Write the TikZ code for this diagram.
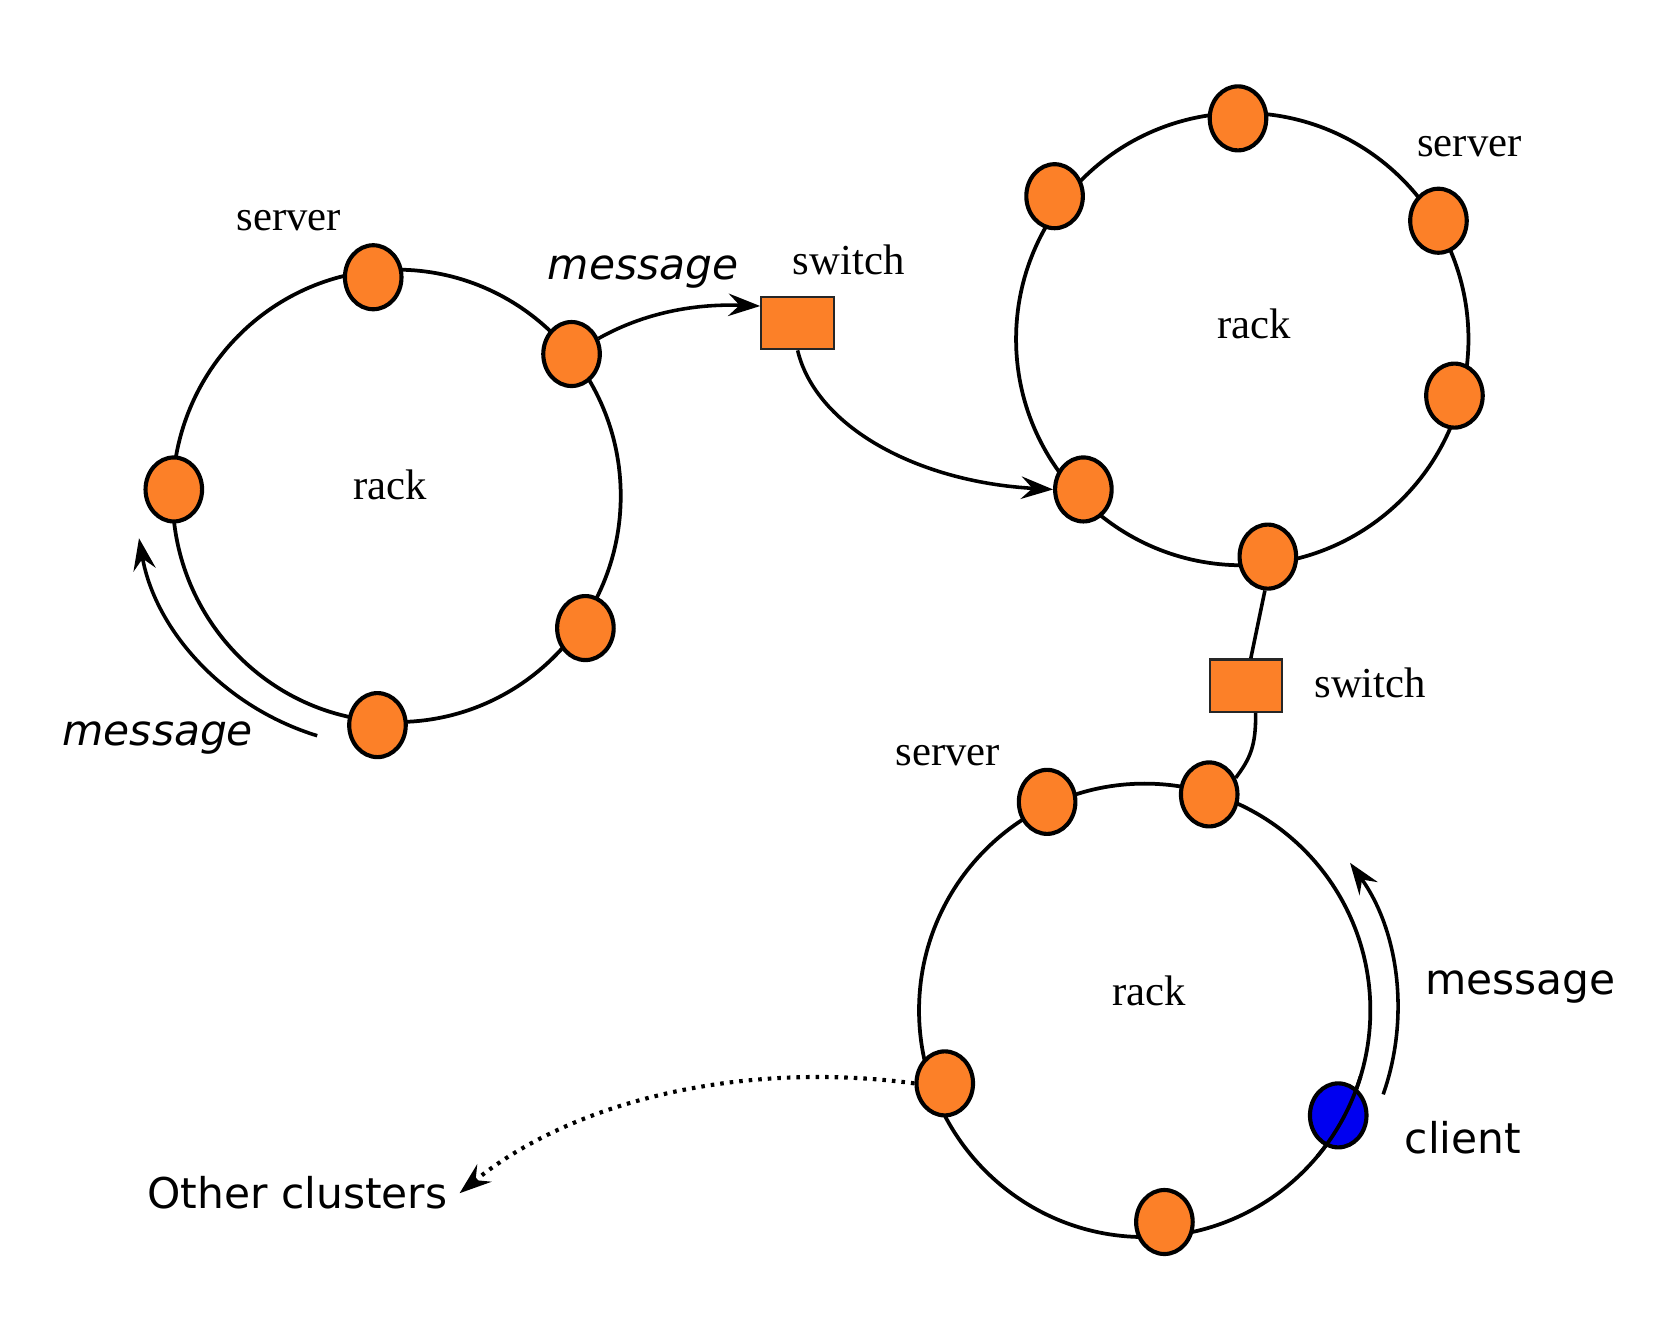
\documentclass[tikz,border=0pt]{standalone}
\usepackage{fontspec}
\setmainfont{Liberation Serif}
\newfontfamily\dvsans{DejaVu Sans}
\usetikzlibrary{shapes.geometric,arrows.meta,calc}
\definecolor{srvorange}{RGB}{252,128,40}
\definecolor{cliblue}{RGB}{0,0,240}
\begin{document}
\begin{tikzpicture}[x=0.01cm,y=-0.01cm,
  srv/.style={ellipse,draw=black,fill=srvorange,line width=1.1pt,minimum width=0.53cm,minimum height=0.60cm,inner sep=0pt},
  cli/.style={srv,fill=cliblue},
  swbox/.style={rectangle,draw=black!85,fill=srvorange,line width=0.6pt,minimum width=0.68cm,minimum height=0.49cm,inner sep=0pt},
  ring/.style={line width=1pt},
  conn/.style={line width=0.95pt},
  arr/.style={conn,-{Stealth[length=8.5pt,width=6pt,inset=3pt]}},
  dotline/.style={line width=1.1pt,dash pattern=on 0.95pt off 1.6pt},
  serif/.style={font=\fontsize{11.4pt}{13pt}\selectfont,anchor=base,inner sep=0pt},
  sans/.style={font=\dvsans\fontsize{11.3pt}{13pt}\selectfont,anchor=base,inner sep=0pt},
  isans/.style={font=\dvsans\itshape\fontsize{11.3pt}{13pt}\selectfont,anchor=base,inner sep=0pt}]
\useasboundingbox (0,0) rectangle (1568,1242);

% rack centres
\coordinate (L) at (372,465);
\coordinate (R) at (1165,318);
\coordinate (B) at (1073.5,947.5);

% rings
\draw[ring] (L) ellipse [x radius=2.10cm, y radius=2.12cm];
\draw[ring] (R) ellipse [x radius=2.12cm, y radius=2.12cm];
\draw[ring] (B) ellipse [x radius=2.115cm, y radius=2.125cm];

% servers, left rack
\node[srv] (l1) at (350,260) {};
\node[srv] (l2) at (536,332) {};
\node[srv] (l3) at (163,459) {};
\node[srv] (l4) at (549,589) {};
\node[srv] (l5) at (354,680) {};
% servers, right rack
\node[srv] (r1) at (1161,111) {};
\node[srv] (r2) at (989,184) {};
\node[srv] (r3) at (1349,207) {};
\node[srv] (r4) at (1364,371) {};
\node[srv] (r5) at (1016,459) {};
\node[srv] (r6) at (1189,522) {};
% servers, bottom rack
\node[srv] (b1) at (982,752) {};
\node[srv] (b2) at (1134,745) {};
\node[srv] (b3) at (886,1016) {};
\node[cli] (b4) at (1255,1046) {};
\node[srv] (b5) at (1092,1146) {};
% ring line across the client
\draw[ring] ($(B)+(-17:2.115cm and 2.125cm)$) arc[start angle=-17,end angle=-40,x radius=2.115cm,y radius=2.125cm];

% switches
\node[swbox] (sw1) at (748,303) {};
\node[swbox] (sw2) at (1168.5,643) {};

% connectors
\draw[arr] (l2.30) .. controls (610,290) and (660,285) .. ([yshift=0.16cm]sw1.west);
\draw[arr] (sw1.south) .. controls (765,400) and (860,452) .. (r5.west);
\draw[conn] (r6.-95) -- ([xshift=0.045cm]sw2.north);
\draw[conn] ([xshift=0.09cm]sw2.south) .. controls (1178,700) and (1172,712) .. (b2.32);

% message arcs
\coordinate (ma1) at ($(L)+(-107.7:2.45cm and 2.36cm)$);
\draw[arr] (ma1) arc[start angle=-107.7,end angle=-170.3,x radius=2.45cm,y radius=2.36cm];
\coordinate (ma2) at ($(B)+(-19.4:2.37cm)$);
\draw[arr] (ma2) arc[start angle=-19.4,end angle=35.7,radius=2.37cm];

% other clusters
\coordinate (oc) at (431,1119);
\draw[arr,dotline] (b3.west) .. controls (700,995) and (540,1030) .. (oc);

% labels
\node[serif] (t1) at (271,216) {server};
\node[serif] (t2) at (366,468) {rack};
\node[isans] (t3) at (603,262) {message};
\node[serif] (t4) at (796,257) {switch};
\node[isans] (t5) at (148,699) {message};
\node[serif] (t6) at (1378,147) {server};
\node[serif] (t7) at (1176,317) {rack};
\node[serif] (t8) at (1285,654) {switch};
\node[serif] (t9) at (889,718) {server};
\node[serif] (t10) at (1078,943) {rack};
\node[sans] (t11) at (1426,933) {message};
\node[sans] (t12) at (1372,1082) {client};
\node[sans] (t13) at (279,1133) {Other clusters};
\end{tikzpicture}
\end{document}
